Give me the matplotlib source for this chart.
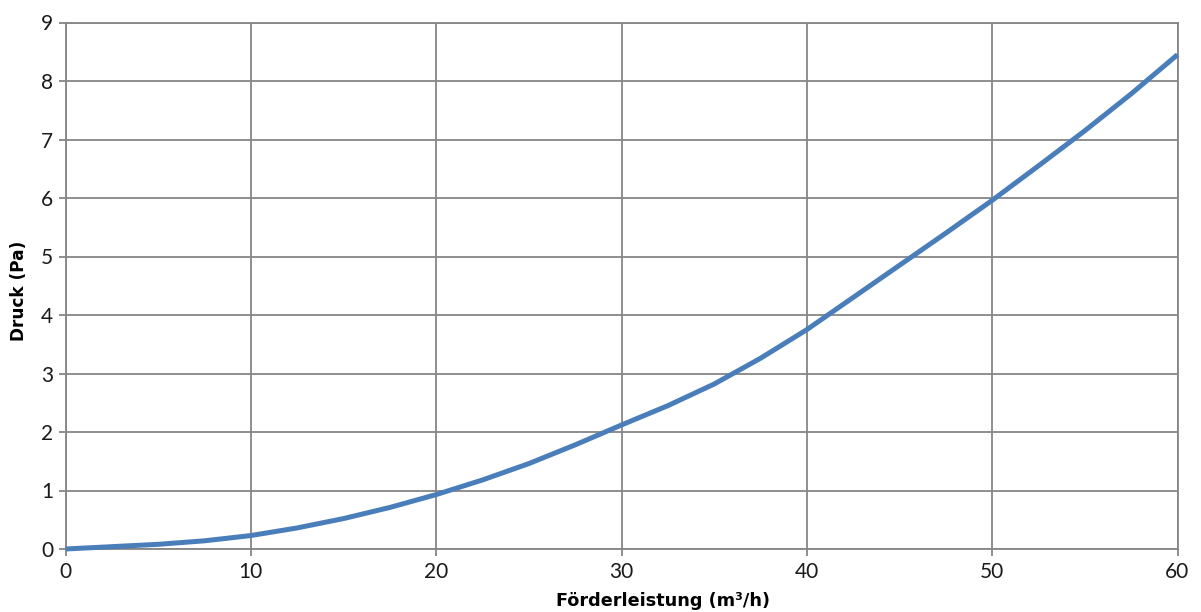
import matplotlib
matplotlib.use("Agg")
import matplotlib.pyplot as plt
import numpy as np

# Data
flow = [0, 2.5, 5, 7.5, 10, 12.5, 15, 17.5, 20, 22.5, 25, 27.5, 30, 32.5, 35, 37.5, 40, 42.5, 45, 47.5, 50, 52.5, 55, 57.5, 60]
pressure = [0.0, 0.04, 0.08, 0.14, 0.23, 0.36, 0.52, 0.71, 0.93, 1.18, 1.46, 1.78, 2.12, 2.45, 2.82, 3.26, 3.75, 4.3, 4.85, 5.4, 5.96, 6.55, 7.15, 7.78, 8.45]

x_ticks = [0, 10, 20, 30, 40, 50, 60]
y_ticks = [0, 1, 2, 3, 4, 5, 6, 7, 8, 9]
x_label = "Förderleistung (m³/h)"
y_label = "Druck (Pa)"

plt.rcParams['font.family'] = ['Lato', 'DejaVu Sans']

W, H = 1201, 612
fig = plt.figure(figsize=(W/100, H/100), dpi=100)
ax = fig.add_axes([65.5/W, 1 - 549/H, (1177.5-65.5)/W, (549-22.5)/H])

ax.plot(flow, pressure, color='#4a7ebb', lw=3.6, solid_joinstyle='round',
        solid_capstyle='butt', zorder=3, clip_on=False)

ax.set_xlim(0, 60)
ax.set_ylim(0, 9)
ax.set_xticks(x_ticks)
ax.set_yticks(y_ticks)
ax.grid(True, color='#868686', lw=1.3)
ax.set_axisbelow(True)
for s in ax.spines.values():
    s.set_color('#868686')
    s.set_linewidth(1.3)
ax.tick_params(axis='both', direction='out', length=5, width=1.3, color='#868686',
               labelsize=15, labelcolor='#1a1a1a')
ax.tick_params(axis='x', pad=4)
ax.tick_params(axis='y', pad=4)

fig.text(663/W, 1 - 601/H, x_label, fontsize=12.7, fontweight='bold', color='#000000',
         family=['DejaVu Sans'], ha='center', va='center')
fig.text(19.5/W, 1 - 291/H, y_label, fontsize=12.2, fontweight='bold', color='#000000',
         family=['DejaVu Sans'], ha='center', va='center', rotation=90)

fig.savefig("out.png", dpi=100, facecolor='white')
